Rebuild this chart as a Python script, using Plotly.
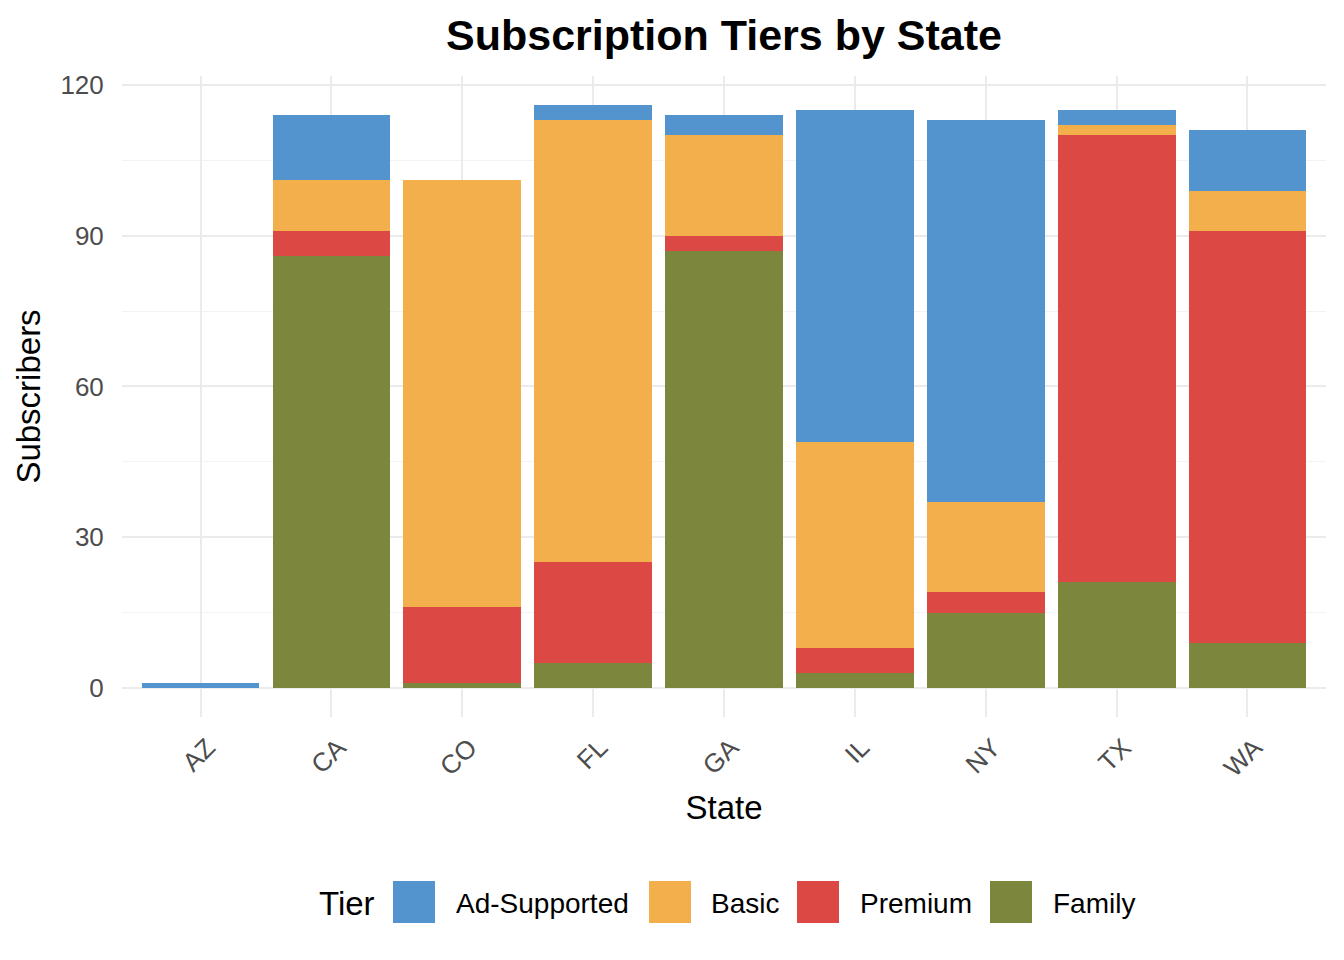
import plotly.graph_objects as go

# data
states = ["AZ", "CA", "CO", "FL", "GA", "IL", "NY", "TX", "WA"]
family = [0, 86, 1, 5, 87, 3, 15, 21, 9]
premium = [0, 5, 15, 20, 3, 5, 4, 89, 82]
basic = [0, 10, 85, 88, 20, 41, 18, 2, 8]
ad_supported = [1, 13, 0, 3, 4, 66, 76, 3, 12]

tiers = ["Ad-Supported", "Basic", "Premium", "Family"]
tier_colors = {
    "Ad-Supported": "#5394CF",
    "Basic": "#F4AF4D",
    "Premium": "#DC4844",
    "Family": "#7C873D",
}
tier_values = {
    "Ad-Supported": ad_supported,
    "Basic": basic,
    "Premium": premium,
    "Family": family,
}

FONT = "Liberation Sans, Arial, sans-serif"

fig = go.Figure()
# bottom of the stack first
for tier in reversed(tiers):
    fig.add_trace(go.Bar(
        x=states, y=tier_values[tier], name=tier,
        marker=dict(color=tier_colors[tier], line=dict(width=0)),
        showlegend=False,
    ))

# page has an 8px body margin, so work in screen pixels and shift
OFF = 8
W, H = 1344 - OFF, 960 - OFF
PANEL = (122, 1326, 76, 717)  # left, right, top, bottom on screen
L, R, T = PANEL[0] - OFF, W - (PANEL[1] - OFF), PANEL[2] - OFF
B = H - (PANEL[3] - OFF)
pw, ph = W - L - R, H - T - B


def px_x(x):
    return (x - OFF - L) / pw


def px_y(y):
    return (H - B - (y - OFF)) / ph


# custom legend, ggplot style with large keys
legend_items = [("Ad-Supported", 393, 454), ("Basic", 649, 709),
                ("Premium", 797, 858), ("Family", 990, 1051)]
shapes = []
annotations = [dict(text="Tier", x=px_x(317), y=px_y(903), xref="paper", yref="paper",
                    xanchor="left", yanchor="middle", showarrow=False,
                    font=dict(family=FONT, size=33, color="black"))]
for tier, sx, tx in legend_items:
    shapes.append(dict(type="rect", xref="paper", yref="paper",
                       x0=px_x(sx), x1=px_x(sx + 42), y0=px_y(923), y1=px_y(881),
                       fillcolor=tier_colors[tier], line=dict(width=0)))
    annotations.append(dict(text=tier, x=px_x(tx), y=px_y(903), xref="paper", yref="paper",
                            xanchor="left", yanchor="middle", showarrow=False,
                            font=dict(family=FONT, size=28, color="black")))

fig.update_layout(
    width=W, height=H,
    margin=dict(l=L, r=R, t=T, b=B),
    barmode="stack", bargap=0.1,
    plot_bgcolor="white", paper_bgcolor="white",
    font=dict(family=FONT, color="black"),
    title=dict(text="<b>Subscription Tiers by State</b>", x=px_x(724), xref="paper",
               xanchor="center", y=1 - (35 - OFF) / H, yref="container", yanchor="middle",
               font=dict(family=FONT, size=43, color="black")),
    xaxis=dict(
        range=[-0.6, 8.6], tickangle=-45,
        showgrid=True, gridcolor="#EBEBEB", gridwidth=2,
        zeroline=False, showline=False, ticks="outside", ticklen=4,
        tickcolor="rgba(0,0,0,0)", ticklabelshift=7,
        tickfont=dict(family=FONT, size=26, color="#4D4D4D"),
        title=dict(text="State", standoff=14, font=dict(family=FONT, size=33, color="black")),
    ),
    yaxis=dict(
        range=[-5.8, 121.8], tickvals=[0, 30, 60, 90, 120],
        showgrid=True, gridcolor="#EBEBEB", gridwidth=2,
        minor=dict(tick0=0, dtick=15, showgrid=True, gridcolor="#F3F3F3", gridwidth=1),
        zeroline=False, showline=False, ticks="outside", ticklen=12,
        tickcolor="rgba(0,0,0,0)",
        tickfont=dict(family=FONT, size=26, color="#4D4D4D"),
        title=dict(text="Subscribers", standoff=9, font=dict(family=FONT, size=33, color="black")),
    ),
    shapes=shapes,
    annotations=annotations,
)

fig.write_html("out.html")
